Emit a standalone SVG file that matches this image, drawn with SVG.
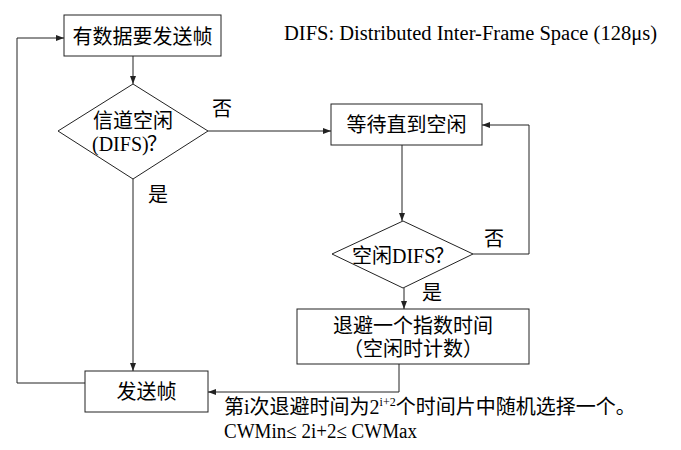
<svg xmlns="http://www.w3.org/2000/svg" width="681" height="450" viewBox="0 0 681 450">
<style>
.box{fill:#fff;stroke:#222;stroke-width:1}
.ln{fill:none;stroke:#222;stroke-width:1}
.t{font-family:"Liberation Serif","Noto Sans CJK SC",serif;font-size:20px;fill:#000}
.lat{font-family:"Liberation Serif",serif}
.c{text-anchor:middle}
</style>
<defs>
<marker id="ah" markerUnits="userSpaceOnUse" markerWidth="8" markerHeight="6" refX="8" refY="3" orient="auto">
<path d="M0,0 L8,3 L0,6 z" fill="#222"/>
</marker>
</defs>
<rect width="681" height="450" fill="#fff"/>
<g id="connectors">
<path class="ln" d="M133,56 V84" marker-end="url(#ah)"/>
<path class="ln" d="M208,131 H331" marker-end="url(#ah)"/>
<path class="ln" d="M402,145 V221" marker-end="url(#ah)"/>
<path class="ln" d="M473,254 H529 V125 H482" marker-end="url(#ah)"/>
<path class="ln" d="M404,288 V309" marker-end="url(#ah)"/>
<path class="ln" d="M399,364 V392 H208" marker-end="url(#ah)"/>
<path class="ln" d="M133,179 V371" marker-end="url(#ah)"/>
<path class="ln" d="M85,383 H17 V38 H64" marker-end="url(#ah)"/>
</g>
<g id="start">
<rect class="box" x="64" y="15" width="157" height="41"/>
<text class="t c" x="142.5" y="44">有数据要发送帧</text>
</g>
<g id="check1">
<polygon class="box" points="133,84 208,131 133,179 58,131"/>
<text class="t c" x="133" y="128">信道空闲</text>
<text class="t lat" x="92" y="151">(DIFS)</text>
<text class="t" x="147" y="151">？</text>
</g>
<g id="wait">
<rect class="box" x="331" y="104" width="151" height="41"/>
<text class="t c" x="406.5" y="132">等待直到空闲</text>
</g>
<g id="check2">
<polygon class="box" points="403,221 473,254 403,288 332,254"/>
<text class="t" x="352" y="263">空闲</text>
<text class="t lat" x="392" y="263">DIFS</text>
<text class="t" x="434" y="263">？</text>
</g>
<g id="backoff">
<rect class="box" x="297" y="309" width="232" height="55"/>
<text class="t c" x="413" y="333">退避一个指数时间</text>
<text class="t c" x="413" y="356">（空闲时计数）</text>
</g>
<g id="send">
<rect class="box" x="85" y="371" width="123" height="41"/>
<text class="t c" x="146.5" y="399">发送帧</text>
</g>
<g id="labels">
<text class="t" x="212" y="116">否</text>
<text class="t" x="148" y="202">是</text>
<text class="t" x="484" y="246">否</text>
<text class="t" x="422" y="300">是</text>
<text class="t lat" x="284" y="40" textLength="373" lengthAdjust="spacingAndGlyphs">DIFS: Distributed Inter-Frame Space (128μs)</text>
<text class="t" x="224" y="414">第<tspan class="lat">i</tspan>次退避时间为<tspan class="lat">2</tspan><tspan class="lat" font-size="12" dy="-8">i+2</tspan><tspan dy="8">个时间片中随机选择一个。</tspan></text>
<text class="t lat" x="224" y="438" font-size="18" textLength="193" lengthAdjust="spacingAndGlyphs">CWMin≤ 2i+2≤ CWMax</text>
</g>
</svg>
